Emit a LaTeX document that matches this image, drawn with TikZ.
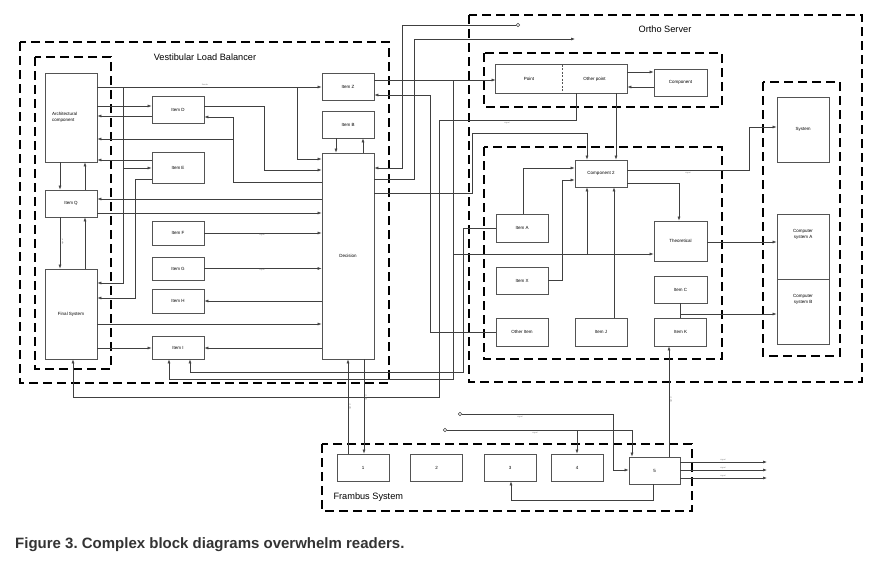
\documentclass[tikz,border=0pt]{standalone}
\usepackage{fontspec}
\setmainfont{Liberation Sans}
\usetikzlibrary{arrows.meta,positioning}
\definecolor{boxgray}{rgb}{0.33,0.33,0.33}
\definecolor{linegray}{rgb}{0.25,0.25,0.25}
\definecolor{capgray}{rgb}{0.2,0.2,0.2}
\frenchspacing

\begin{document}
\begin{tikzpicture}[x=1pt,y=-1pt]
	\tikzstyle{blk}=[draw=boxgray, fill=white, line width=0.8, minimum width=52, minimum height=27, inner sep=1, font=\fontsize{4.5}{5.5}\selectfont, align=center];
	\tikzstyle{grp}=[draw=black, line width=1.5, dash pattern=on 9 off 5];
	\tikzstyle{ln}=[draw=linegray, line width=0.6];
	\tikzstyle{arr}=[ln, -{Latex[length=4, width=3]}];
	\tikzstyle{tag}=[font=\fontsize{2}{2}\selectfont, text=gray, inner sep=0.5];
	\tikzstyle{ttl}=[font=\fontsize{9.2}{11}\selectfont];
	\tikzstyle{endpt}=[circle, draw=linegray, line width=0.6, fill=white, inner sep=0, minimum size=3.5];
	\useasboundingbox (0,0) rectangle (878,563);

	% groups
	\draw[grp] (20,42) rectangle (389,383);
	\draw[grp] (35,57) rectangle (111,369);
	\draw[grp] (469,15) rectangle (862,382);
	\draw[grp] (484,53) rectangle (722,107);
	\draw[grp] (484,147) rectangle (722,359);
	\draw[grp] (763,82) rectangle (840,356);
	\draw[grp] (322,444) rectangle (692,511);
	\node[ttl] at (205,57) {Vestibular Load Balancer};
	\node[ttl] at (665,29) {Ortho Server};
	\node[ttl, anchor=west] at (330,497) {Frambus System};

	% load balancer
	\node[blk, minimum height=89, text width=38, align=left] (arch) at (71,117.5) {Architectural\\component};
	\node[blk] (itemQ) at (71,203.5) {Item Q};
	\node[blk, minimum height=90] (final) at (71,314) {Final System};
	\node[blk] (itemD) at (178,109.5) {Item D};
	\node[blk, minimum height=31] (itemE) at (178,167.5) {Item E};
	\node[blk, minimum height=24] (itemF) at (178,233) {Item F};
	\node[blk, minimum height=23] (itemG) at (178,268.5) {Item G};
	\node[blk, minimum height=24] (itemH) at (178,301) {Item H};
	\node[blk, minimum height=23] (itemI) at (178,347.5) {Item I};
	\node[blk] (itemZ) at (348,86.5) {Item Z};
	\node[blk] (itemB) at (348,124.5) {Item B};
	\node[blk, minimum height=206] (decision) at (348,256) {Decision};

	% ortho server
	\node[blk, draw=none, fill=none, minimum width=66, minimum height=28] (pointL) at (529,79) {Point};
	\node[blk, draw=none, fill=none, minimum width=65, minimum height=28] (otherpt) at (594.5,79) {Other point};
	\draw[boxgray, line width=0.8] (pointL.north west) rectangle (otherpt.south east);
	\draw[boxgray, line width=0.6, dash pattern=on 2 off 1.5] (pointL.north east) -- (pointL.south east);
	\node[blk, minimum width=53] (component) at (680.5,82.5) {Component};
	\node[blk, minimum height=65] (system) at (803,129.5) {System};
	\node[blk, minimum height=65] (compA) at (803,246.5) {};
	\node[blk, minimum height=65] (compB) at (803,311.5) {};
	\node[blk, draw=none, fill=none, inner sep=0, below=7pt of compA.north] (compAtxt) {Computer\\system A};
	\node[blk, draw=none, fill=none, inner sep=0, below=7pt of compB.north] (compBtxt) {Computer\\system B};
	\node[blk] (comp2) at (601,173.5) {Component 2};
	\node[blk, minimum height=28] (itemA) at (522,228) {Item A};
	\node[blk, minimum width=53, minimum height=40] (theo) at (680.5,241) {Theoretical};
	\node[blk] (itemX) at (522,280.5) {Item X};
	\node[blk, minimum width=53] (itemC) at (680.5,289.5) {Item C};
	\node[blk, minimum height=28] (otherI) at (522,332) {Other Item};
	\node[blk, minimum height=28] (itemJ) at (601,332) {Item J};
	\node[blk, minimum height=28] (itemK) at (680.5,332) {Item K};

	% frambus
	\foreach \n/\x in {1/363, 2/436.5, 3/510, 4/577}
		\node[blk] (b\n) at (\x,467.5) {\n};
	\node[blk, minimum width=51] (b5) at (654.5,470.5) {5};

	\node[endpt] (ringA) at (518,25) {};
	\node[endpt] (ringB) at (460,414) {};
	\node[endpt] (ringC) at (445,430) {};
	\coordinate (outA) at (575,39);

	% left side
	\draw[arr] (arch.east |- 0,87) -- (itemZ.west |- 0,87);
	\draw[arr] (297,87) -- (297,159) -- (decision.west |- 0,159);
	\draw[arr] (123,87) -- (123,283) -- (final.east |- 0,283);
	\draw[arr] (123,168) -- (itemE.west |- 0,168);
	\draw[arr] (arch.east |- 0,106) -- (itemD.west |- 0,106);
	\draw[arr] (itemD.west |- 0,116) -- (arch.east |- 0,116);
	\draw[arr] (itemD.east |- 0,106) -- (264,106) -- (264,170) -- (decision.west |- 0,170);
	\draw[arr] (decision.west |- 0,182) -- (233,182) -- (233,117) -- (itemD.east |- 0,117);
	\draw[arr] (233,139) -- (arch.east |- 0,139);
	\draw[arr] (itemE.west |- 0,160) -- (arch.east |- 0,160);
	\draw[arr] (itemE.west |- 0,179) -- (135,179) -- (135,298) -- (final.east |- 0,298);
	\draw[arr] (decision.west |- 0,199) -- (itemQ.east |- 0,199);
	\draw[arr] (itemQ.east |- 0,213) -- (decision.west |- 0,213);
	\draw[arr] (arch.south -| 60,0) -- (itemQ.north -| 60,0);
	\draw[arr] (itemQ.north -| 85,0) -- (arch.south -| 85,0);
	\draw[arr] (itemQ.south -| 60,0) -- (final.north -| 60,0);
	\draw[arr] (final.north -| 85,0) -- (itemQ.south -| 85,0);
	\draw[arr] (itemF.east) -- (decision.west |- itemF.east);
	\draw[arr] (itemG.east) -- (decision.west |- itemG.east);
	\draw[arr] (decision.west |- itemH.east) -- (itemH.east);
	\draw[arr] (final.east |- 0,324) -- (decision.west |- 0,324);
	\draw[arr] (final.east |- 0,348) -- (itemI.west |- 0,348);
	\draw[arr] (decision.west |- 0,348) -- (itemI.east |- 0,348);
	\draw[arr] (itemB.south -| 336,0) -- (decision.north -| 336,0);
	\draw[arr] (decision.north -| 363,0) -- (itemB.south -| 363,0);

	% between the two servers
	\draw[arr] (itemZ.east |- 0,80) -- (pointL.west |- 0,80);
	\draw[arr] (453,80) -- (453,379) -- (169,379) -- (itemI.south -| 169,0);
	\draw[arr] (453,254) -- (theo.west |- 0,254);
	\draw[arr] (587,254) -- (comp2.south -| 587,0);
	\draw[arr] (itemA.west |- 0,228) -- (463,228) -- (463,372) -- (190,372) -- (itemI.south -| 190,0);
	\draw[arr] (otherpt.south -| 576,0) -- (576,120) -- (439,120) -- (439,397) -- (73,397) -- (final.south -| 73,0);
	\draw[arr] (otherI.west) -- (430,332) -- (430,95) -- (itemZ.east |- 0,95);
	\draw[arr] (decision.east |- 0,193) -- (472,193) -- (472,133) -- (587,133) -- (comp2.north -| 587,0);
	\draw[arr] (ringA.west) -- (402,25) -- (402,168) -- (decision.east |- 0,168);
	\draw[arr] (decision.east |- 0,179) -- (414,179) -- (414,39) -- (outA);

	% ortho server
	\draw[arr] (otherpt.south -| 616,0) -- (comp2.north -| 616,0);
	\draw[arr] (otherpt.east |- 0,72) -- (component.west |- 0,72);
	\draw[arr] (component.west |- 0,87) -- (otherpt.east |- 0,87);
	\draw[arr] (itemA.north -| 523,0) -- (523,168) -- (comp2.west |- 0,168);
	\draw[arr] (itemX.east) -- (562,280.5) -- (562,180) -- (comp2.west |- 0,180);
	\draw[arr] (itemJ.north -| 614,0) -- (comp2.south -| 614,0);
	\draw[arr] (comp2.east |- 0,183) -- (679,183) -- (theo.north -| 679,0);
	\draw[arr] (comp2.east |- 0,170) -- (749,170) -- (749,127) -- (system.west |- 0,127);
	\draw[arr] (theo.east |- 0,242) -- (compA.west |- 0,242);
	\draw[ln] (itemC.south) -- (itemK.north);
	\draw[arr] (680.5,314) -- (compB.west |- 0,314);

	% frambus
	\draw[arr] (b5.north -| 669,0) -- (itemK.south -| 669,0);
	\draw[arr] (b1.north -| 348,0) -- (decision.south -| 348,0);
	\draw[arr] (decision.south -| 364,0) -- (b1.north -| 364,0);
	\draw[arr] (ringB.east) -- (613,414) -- (613,470) -- (b5.west |- 0,470);
	\draw[arr] (ringC.east) -- (632,430) -- (b5.north -| 632,0);
	\draw[arr] (577,430) -- (b4.north);
	\draw[arr] (b5.south -| 653,0) -- (653,500) -- (511,500) -- (b3.south -| 511,0);
	\foreach \y in {462,470,478} {
		\coordinate (out\y) at (767,\y);
		\draw[arr] (b5.east |- out\y) -- (out\y);
		\node[tag] at (723,\y-2.5) {signal};
	}

	% small line labels
	\node[tag] at (205,85) {Sender};
	\node[tag, rotate=90] at (62.5,242) {signal};
	\node[tag] at (262,235) {signal};
	\node[tag] at (262,270) {signal};
	\node[tag] at (507,122.5) {signal};
	\node[tag] at (688,172.5) {signal};
	\node[tag, rotate=90] at (350,407) {signal};
	\node[tag, rotate=90] at (366,398) {signal};
	\node[tag, rotate=90] at (671,400) {signal};
	\node[tag] at (520,416.5) {signal};
	\node[tag] at (535,432.5) {signal};

	\node[anchor=base west, inner sep=0, text=capgray, font=\fontsize{15}{18}\selectfont\bfseries] (caption) at (15,548) {Figure 3. Complex block diagrams overwhelm readers.};
\end{tikzpicture}
\end{document}
